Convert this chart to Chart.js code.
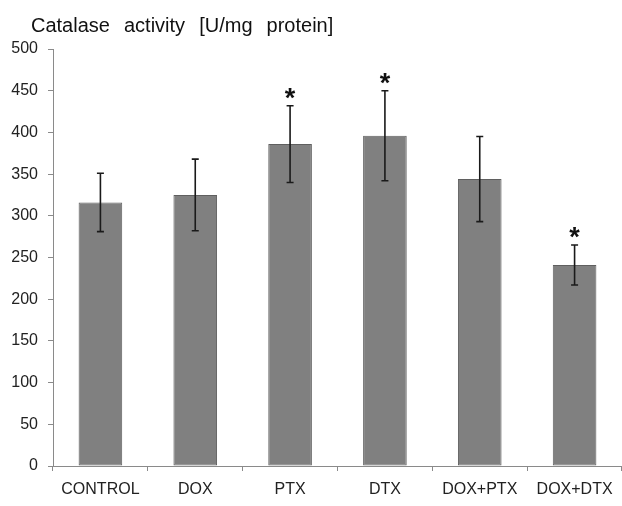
<!DOCTYPE html>
<html>
<head>
<meta charset="utf-8">
<script src="https://cdn.jsdelivr.net/npm/chart.js@4/dist/chart.umd.min.js"></script>
<style>
  html, body { margin: 0; padding: 0; background: #fff; }
  canvas { display: block; }
</style>
</head>
<body>
<canvas id="myChart" width="622" height="506"></canvas>
<script>
// values
var groups = ["CONTROL", "DOX", "PTX", "DTX", "DOX+PTX", "DOX+DTX"];
var catalase = [316, 325, 386, 396, 344, 241];
var sdValues = [35, 43, 46, 54, 51, 24];
var marks = ["", "", "*", "*", "", "*"];
var yTicks = [0, 50, 100, 150, 200, 250, 300, 350, 400, 450, 500];
var titleText = "Catalase activity [U/mg protein]";

var fontName = "'Liberation Sans', Arial, sans-serif";

// draws the title in the top left corner
var titlePlugin = {
    id: "titleText",
    afterDraw: function (chart) {
        var ctx = chart.ctx;
        ctx.save();
        ctx.font = "20px " + fontName;
        if ("wordSpacing" in ctx) ctx.wordSpacing = "8.5px";
        ctx.fillStyle = "#111";
        ctx.textAlign = "left";
        ctx.textBaseline = "alphabetic";
        ctx.fillText(titleText, 31, 32);
        ctx.restore();
    }
};

// error bars and the significance stars
var errorBarPlugin = {
    id: "errorBars",
    afterDatasetsDraw: function (chart) {
        var ctx = chart.ctx;
        var yScale = chart.scales.y;
        var meta = chart.getDatasetMeta(0);
        ctx.save();
        ctx.strokeStyle = "#1a1a1a";
        ctx.lineWidth = 1.6;
        for (var i = 0; i < meta.data.length; i++) {
            var x = meta.data[i].x;
            var top = yScale.getPixelForValue(catalase[i] + sdValues[i]);
            var bottom = yScale.getPixelForValue(catalase[i] - sdValues[i]);
            ctx.beginPath();
            ctx.moveTo(x, top);
            ctx.lineTo(x, bottom);
            ctx.moveTo(x - 3.5, top);
            ctx.lineTo(x + 3.5, top);
            ctx.moveTo(x - 3.5, bottom);
            ctx.lineTo(x + 3.5, bottom);
            ctx.stroke();
            if (marks[i]) {
                ctx.fillStyle = "#111";
                ctx.font = "bold 27px " + fontName;
                ctx.textAlign = "center";
                ctx.textBaseline = "alphabetic";
                ctx.fillText(marks[i], x, top + 1);
            }
        }
        ctx.restore();
    }
};

var bgPlugin = {
    id: "whiteBg",
    beforeDraw: function (chart) {
        var ctx = chart.ctx;
        ctx.save();
        ctx.fillStyle = "#fff";
        ctx.fillRect(0, 0, chart.width, chart.height);
        ctx.restore();
    }
};

new Chart("myChart", {
    type: "bar",
    data: {
        labels: groups,
        datasets: [{
            data: catalase,
            backgroundColor: "#808080",
            borderColor: "#5f5f5f",
            borderWidth: 1,
            borderSkipped: false,
            barPercentage: 0.46,
            categoryPercentage: 1
        }]
    },
    options: {
        responsive: false,
        animation: false,
        layout: { padding: { top: 49, left: 0, right: 0, bottom: 0 } },
        plugins: {
            legend: { display: false },
            title: { display: false },
            tooltip: { enabled: false }
        },
        scales: {
            x: {
                grid: { display: true, drawOnChartArea: false, drawTicks: true, tickLength: 5, color: "#8a8a8a", offset: true },
                border: { display: true, color: "#8a8a8a", width: 1 },
                ticks: {
                    color: "#222",
                    font: { family: fontName, size: 16 },
                    padding: 9,
                    autoSkip: false,
                    maxRotation: 0
                },
                afterFit: function (scale) { scale.height = 40; }
            },
            y: {
                min: 0,
                max: 500,
                afterBuildTicks: function (scale) {
                    scale.ticks = yTicks.map(function (v) { return { value: v }; });
                },
                grid: { display: true, drawOnChartArea: false, drawTicks: true, tickLength: 5, color: "#8a8a8a" },
                border: { display: true, color: "#8a8a8a", width: 1 },
                ticks: {
                    color: "#222",
                    font: { family: fontName, size: 16 },
                    padding: 10
                },
                afterFit: function (scale) { scale.width = 53; }
            }
        }
    },
    plugins: [bgPlugin, errorBarPlugin, titlePlugin]
});
</script>
</body>
</html>
